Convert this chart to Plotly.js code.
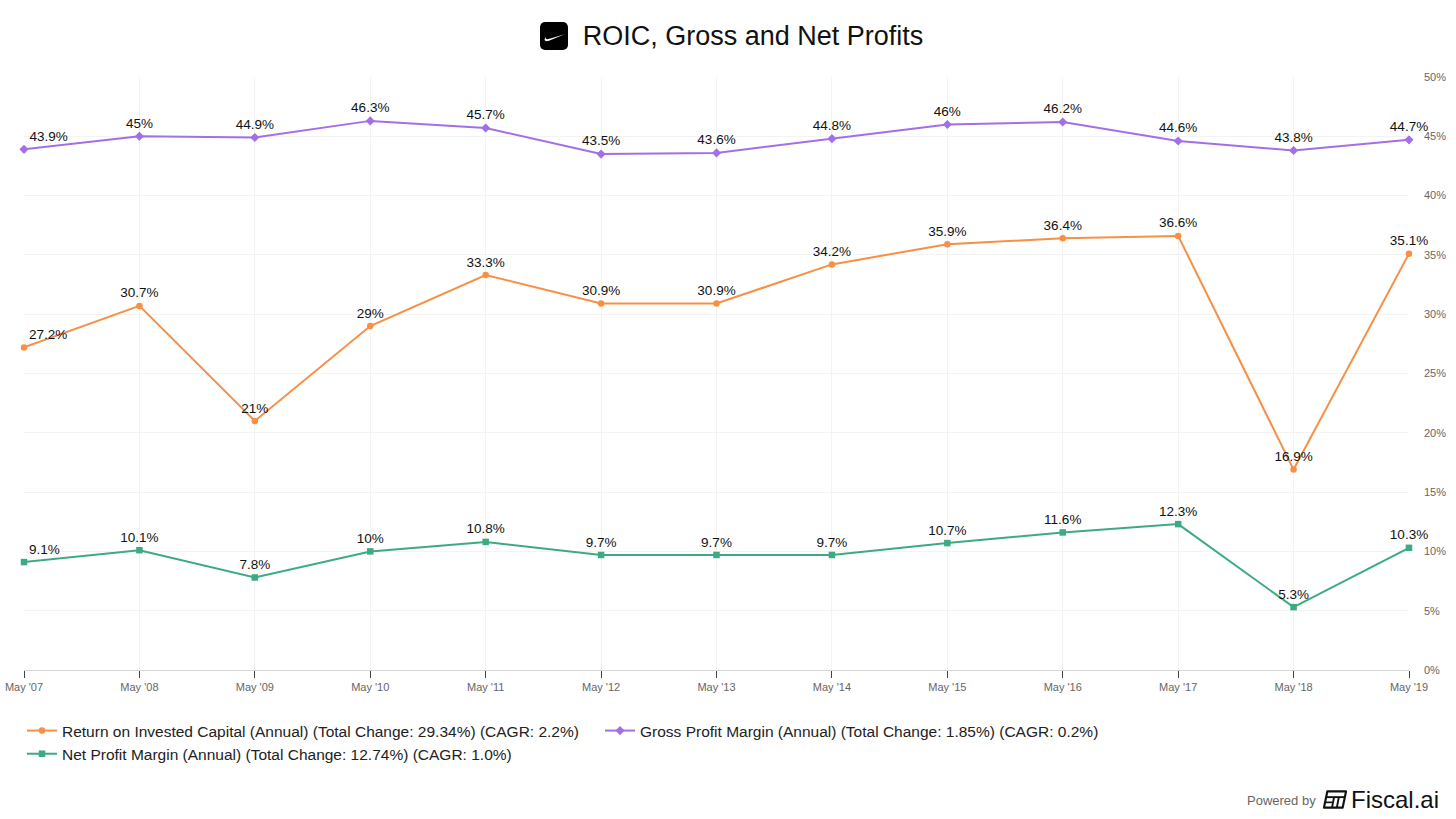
<!DOCTYPE html>
<html>
<head>
<meta charset="utf-8">
<script src="https://cdn.plot.ly/plotly-3.0.1.min.js"></script>
<style>html,body{margin:0;padding:0;background:#fff;}#chart{width:1456px;height:819px;}</style>
</head>
<body>
<div id="chart"></div>
<script>
const periods = ["May '07","May '08","May '09","May '10","May '11","May '12","May '13","May '14","May '15","May '16","May '17","May '18","May '19"];
const roic = [27.2, 30.7, 21, 29, 33.3, 30.9, 30.9, 34.2, 35.9, 36.4, 36.6, 16.9, 35.1];
const grossMargin = [43.9, 45, 44.9, 46.3, 45.7, 43.5, 43.6, 44.8, 46, 46.2, 44.6, 43.8, 44.7];
const netMargin = [9.1, 10.1, 7.8, 10, 10.8, 9.7, 9.7, 9.7, 10.7, 11.6, 12.3, 5.3, 10.3];
const seriesNames = [
  "Return on Invested Capital (Annual) (Total Change: 29.34%) (CAGR: 2.2%)",
  "Gross Profit Margin (Annual) (Total Change: 1.85%) (CAGR: 0.2%)",
  "Net Profit Margin (Annual) (Total Change: 12.74%) (CAGR: 1.0%)"
];
const yTicks = [0,5,10,15,20,25,30,35,40,45,50];

const FONT = "Liberation Sans, Arial, Helvetica, sans-serif";
const L = 24, R = 47, T = 77, B = 149, W = 1456, H = 819;
const pw = W - L - R, ph = H - T - B;
const px = x => (x - L) / pw;
const py = y => (H - B - y) / ph;

function labels(arr){ return arr.map(v => v + '%'); }
function positions(arr){ return arr.map((v,i) => i === 0 ? 'top right' : 'top center'); }

function trace(vals, name, color, symbol){
  return {
    x: periods, y: vals, name: name, type: 'scatter', mode: 'lines+markers+text',
    text: labels(vals), textposition: positions(vals),
    textfont: {family: FONT, size: 13.5, color: '#111'},
    line: {color: color, width: 2},
    marker: {color: color, size: symbol === 'diamond' ? 7 : 6.5, symbol: symbol},
    hoverinfo: 'skip', cliponaxis: false
  };
}

const data = [
  trace(roic, seriesNames[0], '#F78F45', 'circle'),
  trace(grossMargin, seriesNames[1], '#A36FE6', 'diamond'),
  trace(netMargin, seriesNames[2], '#3DAA84', 'square')
];

const nikeLogo = 'data:image/svg+xml;utf8,' + encodeURIComponent(
  '<svg xmlns="http://www.w3.org/2000/svg" viewBox="0 0 100 100"><rect x="0" y="0" width="100" height="100" rx="18" fill="#000"/>' +
  '<path d="M22 52 C 12 64, 16 72, 32 67 L 88 44 L 34 60 C 22 64, 17 60, 22 52 Z" fill="#fff"/></svg>');
const fiscalLogo = 'data:image/svg+xml;utf8,' + encodeURIComponent(
  '<svg xmlns="http://www.w3.org/2000/svg" viewBox="0 0 100 80">' +
  '<path d="M18 6 H96 L82 74 H4 Z" fill="none" stroke="#111" stroke-width="9" stroke-linejoin="round"/>' +
  '<path d="M14 30 H88" stroke="#111" stroke-width="8"/>' +
  '<path d="M46 30 L38 72 M66 30 L58 72" stroke="#111" stroke-width="8"/>' +
  '<path d="M12 52 H40" stroke="#111" stroke-width="7"/></svg>');

const layout = {
  width: W, height: H,
  margin: {l: L, r: R, t: T, b: B, pad: 0},
  paper_bgcolor: '#fff', plot_bgcolor: '#fff',
  font: {family: FONT, color: '#222'},
  title: {text: 'ROIC, Gross and Net Profits', font: {family: FONT, size: 27, color: '#111'},
          x: 753 / W, xanchor: 'center', xref: 'container', y: 1 - 36 / H, yanchor: 'middle', yref: 'container'},
  showlegend: true,
  legend: {orientation: 'h', x: px(22), xanchor: 'left', y: py(714), yanchor: 'top', entrywidth: 533,
           font: {family: FONT, size: 15.5, color: '#222'}, traceorder: 'normal', bgcolor: 'rgba(0,0,0,0)'},
  xaxis: {
    type: 'category', range: [0, periods.length - 1],
    showgrid: true, gridcolor: '#f3f3f3', gridwidth: 1,
    showline: true, linecolor: '#d6d6d6', linewidth: 1,
    ticks: 'outside', ticklen: 7, tickcolor: '#444', tickwidth: 1,
    tickfont: {family: FONT, size: 11, color: '#666'},
    zeroline: false, fixedrange: true
  },
  yaxis: {
    side: 'right', range: [0, 50], tickvals: yTicks, ticktext: yTicks.map(v => v + '%'),
    showgrid: true, gridcolor: '#f3f3f3', gridwidth: 1,
    showline: false, zeroline: false, ticks: '', ticklabelstandoff: 14,
    tickfont: {family: FONT, size: 11, color: '#666'}, fixedrange: true
  },
  images: [
    {source: nikeLogo, xref: 'paper', yref: 'paper', x: px(540), y: py(22), sizex: 28 / pw, sizey: 28 / ph,
     xanchor: 'left', yanchor: 'top', sizing: 'stretch', layer: 'above'},
    {source: fiscalLogo, xref: 'paper', yref: 'paper', x: px(1323), y: py(790), sizex: 24 / pw, sizey: 19 / ph,
     xanchor: 'left', yanchor: 'top', sizing: 'stretch', layer: 'above'}
  ],
  annotations: [
    {text: 'Powered by', xref: 'paper', yref: 'paper', x: px(1318), y: py(800), xanchor: 'right', yanchor: 'middle',
     showarrow: false, font: {family: FONT, size: 13, color: '#666'}},
    {text: 'Fiscal.ai', xref: 'paper', yref: 'paper', x: px(1349), y: py(799), xanchor: 'left', yanchor: 'middle',
     showarrow: false, font: {family: FONT, size: 24, color: '#111'}}
  ]
};

Plotly.newPlot('chart', data, layout, {displayModeBar: false, staticPlot: true});
</script>
</body>
</html>
